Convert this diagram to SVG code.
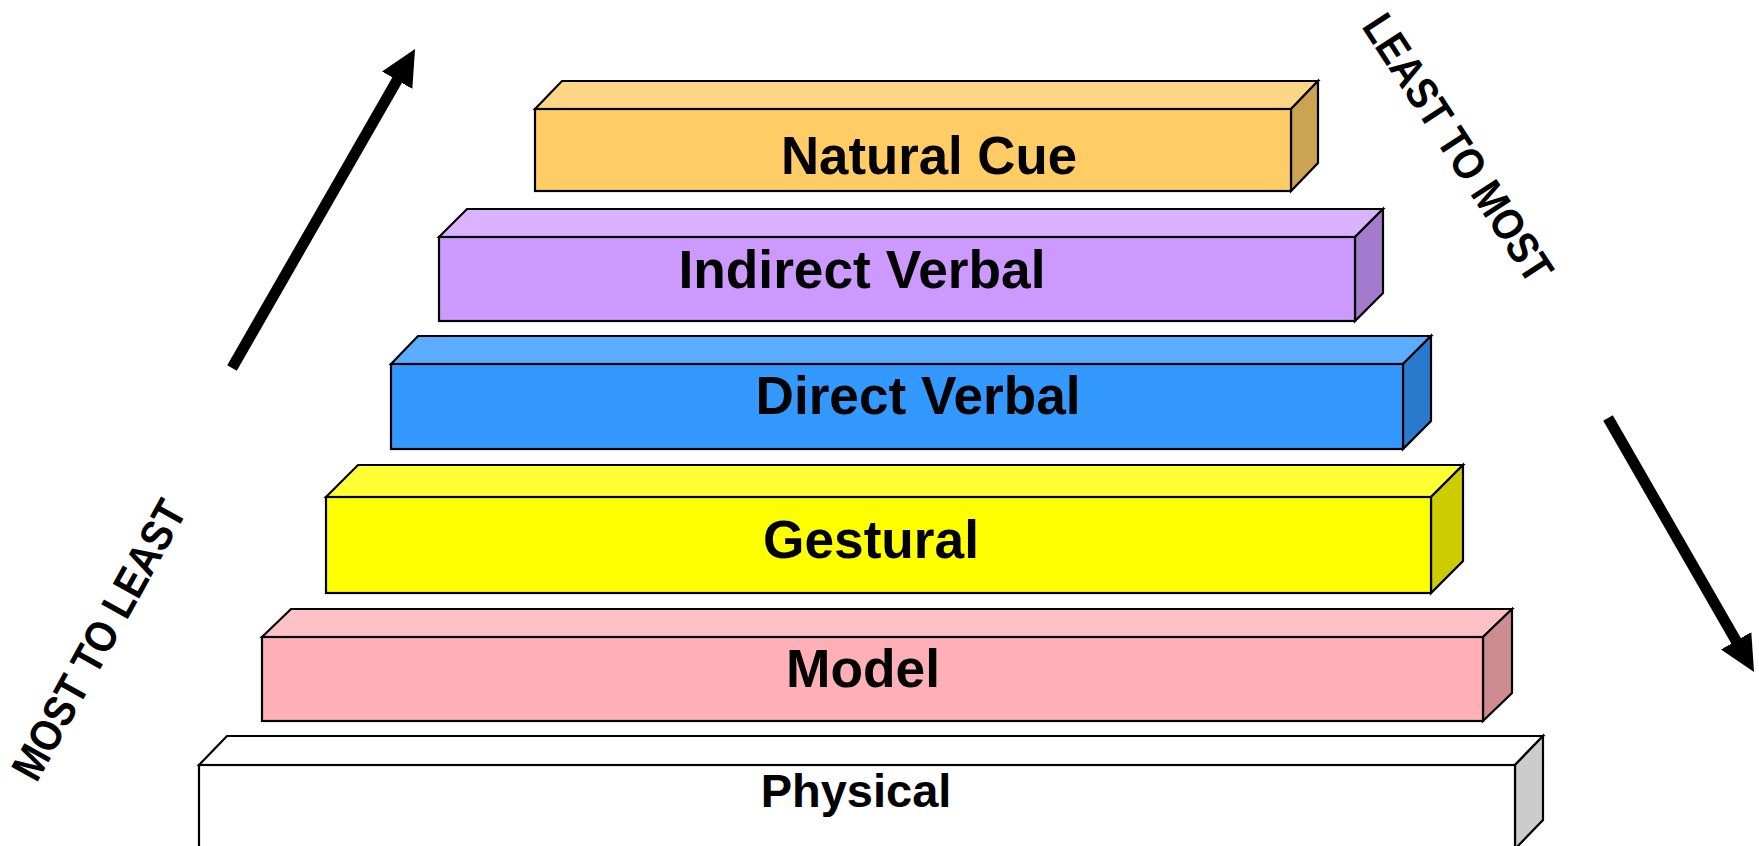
<svg xmlns="http://www.w3.org/2000/svg" width="1759" height="846" viewBox="0 0 1759 846">
<defs>
<style>
.edge{stroke:#000;stroke-width:2.2;stroke-linejoin:miter}
.lbl{font-family:"Liberation Sans",Arial,sans-serif;font-weight:bold;fill:#000;text-anchor:middle}
.big{font-size:54px}
.side{font-family:"Liberation Sans",Arial,sans-serif;font-weight:bold;fill:#000;font-size:44px;text-anchor:middle}
.arrow{stroke:#000;stroke-width:11;fill:none;stroke-linecap:butt}
</style>
<marker id="head" markerUnits="userSpaceOnUse" markerWidth="36" markerHeight="35" viewBox="0 0 36 35" refX="6" refY="17.5" orient="auto">
<path d="M0,0 L36,17.5 L0,35 z" fill="#000"/>
</marker>
</defs>
<rect width="1759" height="846" fill="#fff"/>

<g id="physical">
<polygon class="edge" fill="#ffffff" points="199,765 227,736 1543,736 1515,765"/>
<polygon class="edge" fill="#cccccc" points="1515,765 1543,736 1543,820 1515,849"/>
<rect class="edge" fill="#ffffff" x="199" y="765" width="1316" height="84"/>
<text class="lbl" x="856" y="807" font-size="47">Physical</text>
</g>

<g id="model">
<polygon class="edge" fill="#ffc1c5" points="262,637 291,609 1512,609 1483,637"/>
<polygon class="edge" fill="#cc8c90" points="1483,637 1512,609 1512,693 1483,721"/>
<rect class="edge" fill="#ffb0b6" x="262" y="637" width="1221" height="84"/>
<text class="lbl big" x="863" y="687" textLength="154" lengthAdjust="spacingAndGlyphs">Model</text>
</g>

<g id="gestural">
<polygon class="edge" fill="#ffff33" points="326,497 358,465 1463,465 1431,497"/>
<polygon class="edge" fill="#cccc00" points="1431,497 1463,465 1463,561 1431,593"/>
<rect class="edge" fill="#ffff00" x="326" y="497" width="1105" height="96"/>
<text class="lbl big" x="871" y="558" textLength="216" lengthAdjust="spacingAndGlyphs">Gestural</text>
</g>

<g id="direct-verbal">
<polygon class="edge" fill="#5cadff" points="391,364 418,336 1431,336 1403,364"/>
<polygon class="edge" fill="#297acc" points="1403,364 1431,336 1431,421 1403,449"/>
<rect class="edge" fill="#3399ff" x="391" y="364" width="1012" height="85"/>
<text class="lbl big" x="918" y="414" textLength="325" lengthAdjust="spacingAndGlyphs">Direct Verbal</text>
</g>

<g id="indirect-verbal">
<polygon class="edge" fill="#d9b3ff" points="439,237 467,209 1383,209 1355,237"/>
<polygon class="edge" fill="#a37acc" points="1355,237 1383,209 1383,293 1355,321"/>
<rect class="edge" fill="#cc99ff" x="439" y="237" width="916" height="84"/>
<text class="lbl big" x="862" y="288" textLength="367" lengthAdjust="spacingAndGlyphs">Indirect Verbal</text>
</g>

<g id="natural-cue">
<polygon class="edge" fill="#ffd685" points="535,109 562,81 1318,81 1291,109"/>
<polygon class="edge" fill="#cca352" points="1291,109 1318,81 1318,163 1291,191"/>
<rect class="edge" fill="#ffcc66" x="535" y="109" width="756" height="82"/>
<text class="lbl big" x="929" y="174" textLength="296" lengthAdjust="spacingAndGlyphs">Natural Cue</text>
</g>

<g id="connectors">
<line class="arrow" x1="232" y1="368" x2="400.1" y2="75" marker-end="url(#head)"/>
<line class="arrow" x1="1608" y1="418" x2="1739.1" y2="646" marker-end="url(#head)"/>
</g>

<g id="labels">
<text class="side" transform="translate(1458,148) rotate(57)" y="15" textLength="310" lengthAdjust="spacingAndGlyphs">LEAST TO MOST</text>
<text class="side" transform="translate(99,640) rotate(-61)" y="15" textLength="312" lengthAdjust="spacingAndGlyphs">MOST TO LEAST</text>
</g>
</svg>
